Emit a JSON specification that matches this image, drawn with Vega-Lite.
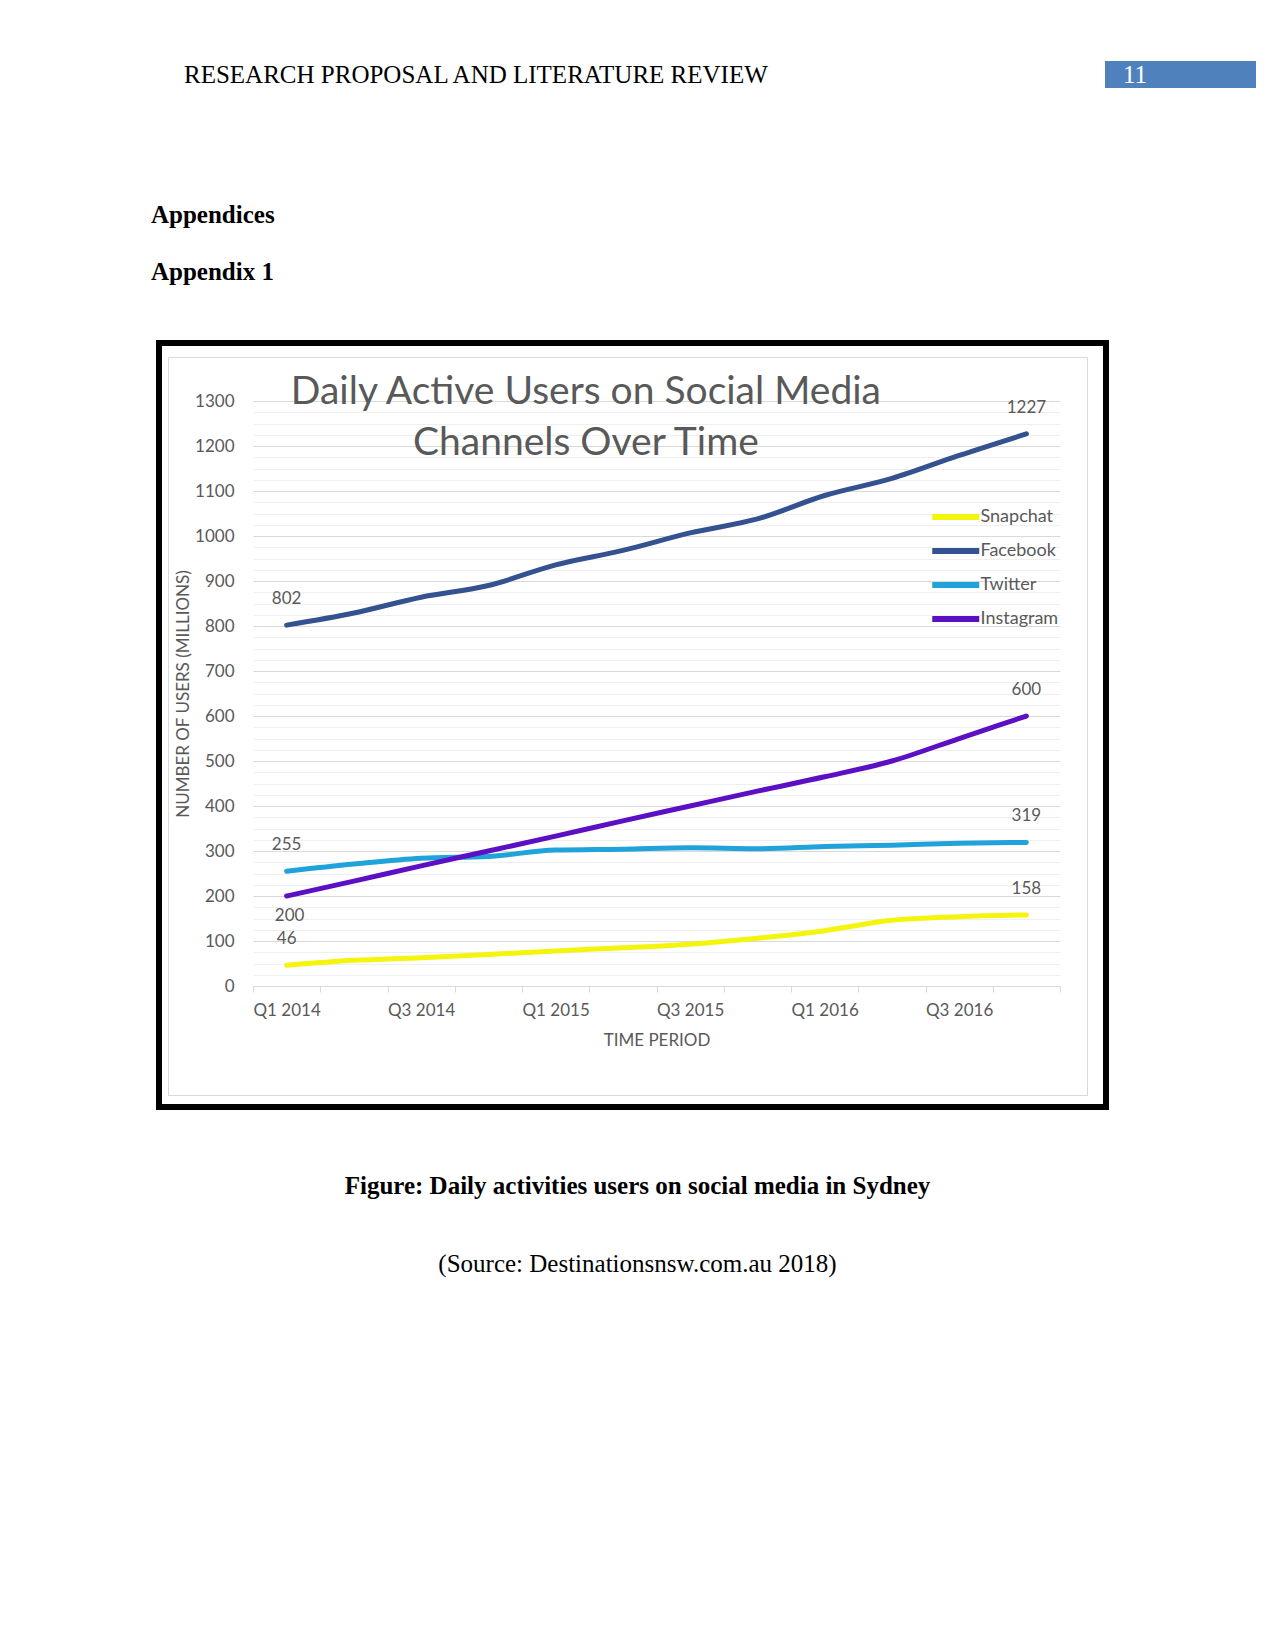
{
  "$schema": "https://vega.github.io/schema/vega-lite/v6.json",
  "padding": 0,
  "background": "white",
  "spacing": 0,
  "bounds": "full",
  "config": {"view": {"stroke": null, "fill": "#ffffff"}, "font": "Lato", "concat": {"spacing": 0}},
  "datasets": {
    "none": [],
    "users": [
      {"quarter": "Q1 2014", "channel": "Facebook", "users": 802},
      {"quarter": "Q2 2014", "channel": "Facebook", "users": 829},
      {"quarter": "Q3 2014", "channel": "Facebook", "users": 864},
      {"quarter": "Q4 2014", "channel": "Facebook", "users": 890},
      {"quarter": "Q1 2015", "channel": "Facebook", "users": 936},
      {"quarter": "Q2 2015", "channel": "Facebook", "users": 968},
      {"quarter": "Q3 2015", "channel": "Facebook", "users": 1007},
      {"quarter": "Q4 2015", "channel": "Facebook", "users": 1038},
      {"quarter": "Q1 2016", "channel": "Facebook", "users": 1090},
      {"quarter": "Q2 2016", "channel": "Facebook", "users": 1128},
      {"quarter": "Q3 2016", "channel": "Facebook", "users": 1179},
      {"quarter": "Q4 2016", "channel": "Facebook", "users": 1227},
      {"quarter": "Q1 2014", "channel": "Twitter", "users": 255},
      {"quarter": "Q2 2014", "channel": "Twitter", "users": 271},
      {"quarter": "Q3 2014", "channel": "Twitter", "users": 284},
      {"quarter": "Q4 2014", "channel": "Twitter", "users": 288},
      {"quarter": "Q1 2015", "channel": "Twitter", "users": 302},
      {"quarter": "Q2 2015", "channel": "Twitter", "users": 304},
      {"quarter": "Q3 2015", "channel": "Twitter", "users": 307},
      {"quarter": "Q4 2015", "channel": "Twitter", "users": 305},
      {"quarter": "Q1 2016", "channel": "Twitter", "users": 310},
      {"quarter": "Q2 2016", "channel": "Twitter", "users": 313},
      {"quarter": "Q3 2016", "channel": "Twitter", "users": 317},
      {"quarter": "Q4 2016", "channel": "Twitter", "users": 319},
      {"quarter": "Q1 2014", "channel": "Instagram", "users": 200},
      {"quarter": "Q2 2014", "channel": "Instagram", "users": 233},
      {"quarter": "Q3 2014", "channel": "Instagram", "users": 267},
      {"quarter": "Q4 2014", "channel": "Instagram", "users": 300},
      {"quarter": "Q1 2015", "channel": "Instagram", "users": 333},
      {"quarter": "Q2 2015", "channel": "Instagram", "users": 367},
      {"quarter": "Q3 2015", "channel": "Instagram", "users": 400},
      {"quarter": "Q4 2015", "channel": "Instagram", "users": 433},
      {"quarter": "Q1 2016", "channel": "Instagram", "users": 465},
      {"quarter": "Q2 2016", "channel": "Instagram", "users": 500},
      {"quarter": "Q3 2016", "channel": "Instagram", "users": 550},
      {"quarter": "Q4 2016", "channel": "Instagram", "users": 600},
      {"quarter": "Q1 2014", "channel": "Snapchat", "users": 46},
      {"quarter": "Q2 2014", "channel": "Snapchat", "users": 57},
      {"quarter": "Q3 2014", "channel": "Snapchat", "users": 63},
      {"quarter": "Q4 2014", "channel": "Snapchat", "users": 70},
      {"quarter": "Q1 2015", "channel": "Snapchat", "users": 78},
      {"quarter": "Q2 2015", "channel": "Snapchat", "users": 85},
      {"quarter": "Q3 2015", "channel": "Snapchat", "users": 93},
      {"quarter": "Q4 2015", "channel": "Snapchat", "users": 106},
      {"quarter": "Q1 2016", "channel": "Snapchat", "users": 123},
      {"quarter": "Q2 2016", "channel": "Snapchat", "users": 146},
      {"quarter": "Q3 2016", "channel": "Snapchat", "users": 154},
      {"quarter": "Q4 2016", "channel": "Snapchat", "users": 158}
    ]
  },
  "vconcat": [
    {
      "spacing": 0, "bounds": "flush",
      "hconcat": [
        {"width": 1105, "height": 88, "data": {"name": "none"}, "mark": "point",
         "title": {"text": "RESEARCH PROPOSAL AND LITERATURE REVIEW", "orient": "bottom", "anchor": "start", "frame": "group", "offset": -24.75, "dx": 184, "font": "Liberation Serif", "fontSize": 25, "fontWeight": "normal", "color": "#000000"}},
        {"spacing": 0, "bounds": "flush",
         "vconcat": [
           {"width": 151, "height": 61, "data": {"name": "none"}, "mark": "point"},
           {"width": 151, "height": 27, "data": {"name": "none"}, "mark": "point", "view": {"fill": "#4f81bd", "stroke": null},
            "title": {"text": "11", "orient": "bottom", "anchor": "start", "frame": "group", "offset": -24.75, "dx": 18, "font": "Liberation Serif", "fontSize": 25, "fontWeight": "normal", "color": "#ffffff"}}
         ]}
      ]
    },
    {"width": 1275, "height": 251, "data": {"name": "none"}, "mark": "point",
     "title": {"text": "Appendices", "subtitle": "Appendix 1", "orient": "bottom", "anchor": "start", "frame": "group", "offset": -137.5, "dx": 151, "font": "Liberation Serif", "fontSize": 25, "fontWeight": "bold", "color": "#000000", "subtitleFont": "Liberation Serif", "subtitleFontSize": 25, "subtitleFontWeight": "bold", "subtitleColor": "#000000", "subtitlePadding": 32}},
    {
      "spacing": 0, "bounds": "flush",
      "hconcat": [
        {"width": 156, "height": 6, "data": {"name": "none"}, "mark": "point"},
        {"width": 953, "height": 6, "data": {"name": "none"}, "mark": "point", "view": {"fill": "#000000", "stroke": null}}
      ]
    },
    {
      "spacing": 0, "bounds": "flush",
      "hconcat": [
        {"width": 156, "height": 758, "data": {"name": "none"}, "mark": "point"},
        {"width": 6, "height": 758, "data": {"name": "none"}, "mark": "point", "view": {"fill": "#000000", "stroke": null}},
        {
          "spacing": 0, "bounds": "full",
          "vconcat": [
            {"spacing": 0, "bounds": "flush",
             "hconcat": [
               {"width": 941, "height": 11, "data": {"name": "none"}, "mark": "point"},
               {"width": 6, "height": 11, "data": {"name": "none"}, "mark": "point", "view": {"fill": "#000000", "stroke": null}}
             ]},
            {"spacing": 0, "bounds": "flush",
             "hconcat": [
               {"width": 6, "height": 1, "data": {"name": "none"}, "mark": "point"},
               {"width": 920, "height": 1, "data": {"name": "none"}, "mark": "point", "view": {"fill": "#d9d9d9", "stroke": null}},
               {"width": 15, "height": 1, "data": {"name": "none"}, "mark": "point"},
               {"width": 6, "height": 1, "data": {"name": "none"}, "mark": "point", "view": {"fill": "#000000", "stroke": null}}
             ]},
            {"spacing": 0, "bounds": "flush",
             "hconcat": [
               {"width": 6, "height": 737, "data": {"name": "none"}, "mark": "point"},
               {"width": 1, "height": 737, "data": {"name": "none"}, "mark": "point", "view": {"fill": "#d9d9d9", "stroke": null}},
               {"width": 84, "height": 737, "data": {"name": "none"}, "mark": "point"},
               {
                 "width": 807, "height": 628,
                 "data": {"name": "users"},
                 "encoding": {
                   "x": {"field": "quarter", "type": "ordinal", "bandPosition": 0.5,
                     "scale": {"type": "band", "domain": ["Q1 2014", "Q2 2014", "Q3 2014", "Q4 2014", "Q1 2015", "Q2 2015", "Q3 2015", "Q4 2015", "Q1 2016", "Q2 2016", "Q3 2016", "Q4 2016"], "paddingInner": 0, "paddingOuter": 0},
                     "axis": {"title": "TIME PERIOD", "tickBand": "extent", "labelAngle": 0,
                       "labelExpr": "indexof(['Q1', 'Q3'], substring(datum.label, 0, 2)) >= 0 ? datum.label : ''",
                       "domainColor": "#d9d9d9", "domainWidth": 1, "tickColor": "#d9d9d9", "tickSize": 6,
                       "labelPadding": 10, "labelFontSize": 17, "labelColor": "#595959", "labelFont": "Lato", "labelOverlap": false,
                       "titleFont": "Lato", "titleFontSize": 17, "titleColor": "#595959", "titleFontWeight": "normal", "titlePadding": 14, "grid": false}}
                 },
                 "layer": [
                   {
                     "data": {"name": "none"},
                     "mark": "point",
                     "encoding": {
                       "y": {"field": "users", "type": "quantitative", "scale": {"domain": [0, 1395.6], "nice": false},
                         "axis": {"orient": "left", "values": [25, 50, 75, 125, 150, 175, 225, 250, 275, 325, 350, 375, 425, 450, 475, 525, 550, 575, 625, 650, 675, 725, 750, 775, 825, 850, 875, 925, 950, 975, 1025, 1050, 1075, 1125, 1150, 1175, 1225, 1250, 1275], "grid": true, "gridColor": "#efefef", "gridWidth": 1, "labels": false, "ticks": false, "domain": false, "title": null}}
                     }
                   },
                   {
                     "mark": {"type": "line", "strokeWidth": 5, "interpolate": "monotone", "strokeCap": "round", "strokeJoin": "round"},
                     "encoding": {
                       "y": {"field": "users", "type": "quantitative", "scale": {"domain": [0, 1395.6], "nice": false},
                         "axis": {"orient": "left", "title": "NUMBER OF USERS (MILLIONS)", "values": [0, 100, 200, 300, 400, 500, 600, 700, 800, 900, 1000, 1100, 1200, 1300], "format": "d", "grid": true, "gridColor": "#d9d9d9", "gridWidth": 1, "domain": false, "ticks": false, "labelPadding": 19, "labelFontSize": 17, "labelColor": "#595959", "labelFont": "Lato", "titleFont": "Lato", "titleFontSize": 17, "titleColor": "#595959", "titleFontWeight": "normal", "titleX": -70, "titleY": 335.5, "titleAngle": -90, "titleAlign": "center", "titleBaseline": "middle"}},
                       "color": {"field": "channel", "type": "nominal",
                         "scale": {"domain": ["Snapchat", "Facebook", "Twitter", "Instagram"], "range": ["#f4f40c", "#345190", "#1fa3da", "#5c10c4"]},
                         "legend": {"orient": "none", "legendX": 940.75, "legendY": 502, "title": null, "symbolType": "M-2,0H2", "symbolSize": 552.25, "symbolStrokeWidth": 6, "labelFontSize": 18, "labelColor": "#595959", "labelFont": "Lato", "labelOffset": 9.75, "rowPadding": 7, "padding": 0}}
                     }
                   },
                   {
                     "transform": [{"filter": "(datum.quarter == 'Q1 2014' || datum.quarter == 'Q4 2016') && !(datum.channel == 'Instagram' && datum.quarter == 'Q1 2014')"}],
                     "mark": {"type": "text", "dy": -26, "fontSize": 17, "color": "#595959", "font": "Lato", "baseline": "middle"},
                     "encoding": {
                       "y": {"field": "users", "type": "quantitative", "scale": {"domain": [0, 1395.6], "nice": false}, "axis": null},
                       "text": {"field": "users", "type": "nominal"}
                     }
                   },
                   {
                     "transform": [{"filter": "datum.channel == 'Instagram' && datum.quarter == 'Q1 2014'"}],
                     "mark": {"type": "text", "dy": 20, "dx": 3, "fontSize": 17, "color": "#595959", "font": "Lato", "baseline": "middle"},
                     "encoding": {
                       "y": {"field": "users", "type": "quantitative", "scale": {"domain": [0, 1395.6], "nice": false}, "axis": null},
                       "text": {"field": "users", "type": "nominal"}
                     }
                   }
                 ],
                 "resolve": {"axis": {"y": "independent"}}
               },
               {"width": 27, "height": 737, "data": {"name": "none"}, "mark": "point",
                "title": {"text": ["Daily Active Users on Social Media", "Channels Over Time"], "orient": "bottom", "anchor": "start", "align": "center", "frame": "group", "offset": -721.6, "dx": -474.1, "font": "Lato", "fontSize": 39, "fontWeight": "normal", "color": "#595959", "lineHeight": 50.6}},
               {"width": 1, "height": 737, "data": {"name": "none"}, "mark": "point", "view": {"fill": "#d9d9d9", "stroke": null}},
               {"width": 15, "height": 737, "data": {"name": "none"}, "mark": "point"},
               {"width": 6, "height": 737, "data": {"name": "none"}, "mark": "point", "view": {"fill": "#000000", "stroke": null}}
             ]},
            {"spacing": 0, "bounds": "flush",
             "hconcat": [
               {"width": 6, "height": 1, "data": {"name": "none"}, "mark": "point"},
               {"width": 920, "height": 1, "data": {"name": "none"}, "mark": "point", "view": {"fill": "#d9d9d9", "stroke": null}},
               {"width": 15, "height": 1, "data": {"name": "none"}, "mark": "point"},
               {"width": 6, "height": 1, "data": {"name": "none"}, "mark": "point", "view": {"fill": "#000000", "stroke": null}}
             ]},
            {"spacing": 0, "bounds": "flush",
             "hconcat": [
               {"width": 941, "height": 8, "data": {"name": "none"}, "mark": "point"},
               {"width": 6, "height": 8, "data": {"name": "none"}, "mark": "point", "view": {"fill": "#000000", "stroke": null}}
             ]}
          ]
        }
      ]
    },
    {
      "spacing": 0, "bounds": "flush",
      "hconcat": [
        {"width": 156, "height": 6, "data": {"name": "none"}, "mark": "point"},
        {"width": 953, "height": 6, "data": {"name": "none"}, "mark": "point", "view": {"fill": "#000000", "stroke": null}}
      ]
    },
    {"width": 1275, "height": 542, "data": {"name": "none"}, "mark": "point",
     "title": {"text": "Figure: Daily activities users on social media in Sydney", "subtitle": "(Source: Destinationsnsw.com.au 2018)", "orient": "bottom", "anchor": "middle", "frame": "group", "offset": -477.9, "font": "Liberation Serif", "fontSize": 25, "fontWeight": "bold", "color": "#000000", "subtitleFont": "Liberation Serif", "subtitleFontSize": 25, "subtitleFontWeight": "normal", "subtitleColor": "#000000", "subtitlePadding": 52.9}}
  ]
}
